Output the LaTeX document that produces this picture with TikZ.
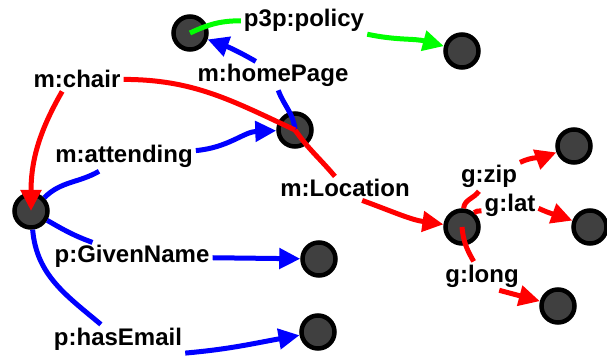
\documentclass[tikz,border=0pt]{standalone}
\usepackage{fontspec}
\setmainfont{Liberation Sans}
\usetikzlibrary{arrows.meta}
\definecolor{resgray}{RGB}{64,64,64}
\definecolor{litgreen}{RGB}{0,255,0}

\begin{document}
\begin{tikzpicture}[x=1pt, y=1pt,
   res/.style={circle, draw=black, line width=4.5pt, fill=resgray, minimum size=33pt, inner sep=0pt},
   prop/.style={font=\fontsize{24}{28}\selectfont\bfseries, inner sep=3pt, anchor=base},
   arc/.style={line width=5pt},
   tip/.style={arc, -{Triangle[length=21pt, width=20pt]}}]
\useasboundingbox (0,0) rectangle (607,356);
\node[res] (doc)    at (190,323) {};
\node[res] (policy) at (462,305) {};
\node[res] (conf)   at (295,226) {};
\node[res] (person) at (31,145)  {};
\node[res] (name)   at (319,97)  {};
\node[res] (email)  at (318,24)  {};
\node[res] (loc)    at (462,129) {};
\node[res] (zip)    at (574,210) {};
\node[res] (lat)    at (590,129) {};
\node[res] (long)   at (558,50)  {};
\node[prop] (p3p)   at (304,329) {p3p:policy};
\node[prop] (home)  at (273,274) {m:homePage};
\node[prop] (chair) at (77,268)  {m:chair};
\node[prop] (att)   at (124,193) {m:attending};
\node[prop] (given) at (132,93)  {p:GivenName};
\node[prop] (mail)  at (118,11)  {p:hasEmail};
\node[prop] (where) at (345,159) {m:Location};
\node[prop] (gzip)  at (489,173) {g:zip};
\node[prop] (glat)  at (510,144) {g:lat};
\node[prop] (glong) at (482,74)  {g:long};
\draw[arc, litgreen] (doc.center) to[out=25, in=180] (p3p);
\draw[tip, litgreen] (p3p) to[out=-12, in=165] (policy);
\draw[arc, blue] (conf.center) to[out=95, in=-70] (home);
\draw[tip, blue] (home.140) to[out=150, in=-20] (doc);
\draw[arc, red] (conf.center) to[out=155, in=0] (chair);
\draw[tip, red] (chair.219) to[out=-120, in=90] (person.center);
\draw[arc, red] (conf.center) to[out=-55, in=130] (where);
\draw[tip, red] (where.-35) to[out=-20, in=172] (loc);
\draw[arc, blue] (person) to[out=45, in=-150] (att);
\draw[tip, blue] (att) to[out=5, in=182] (conf);
\draw[arc, blue] (person) to[out=-30, in=160] (given);
\draw[tip, blue] (given) -- (name);
\draw[arc, blue] (person) to[out=-85, in=140] (mail);
\draw[tip, blue] (mail.-12) to[out=5, in=190] (email);
\draw[arc, red] (loc) to[out=85, in=-125] (gzip);
\draw[tip, red] (gzip) to[out=25, in=200] (zip);
\draw[arc, red] (loc) to[out=50, in=-170] (glat);
\draw[tip, red] (glat.-5) to[out=-25, in=160] (lat);
\draw[arc, red] (loc.center) to[out=-85, in=120] (glong);
\draw[tip, red] (glong.-40) to[out=-15, in=165] (long);
\end{tikzpicture}
\end{document}
